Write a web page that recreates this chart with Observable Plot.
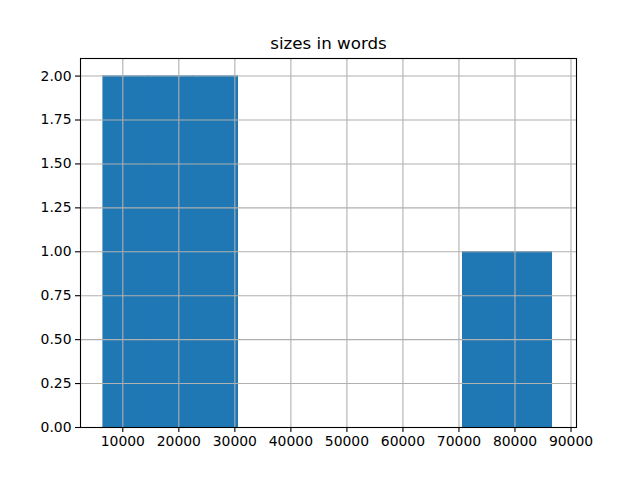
<!DOCTYPE html>
<html>
<head>
<meta charset="utf-8">
<script src="https://cdn.jsdelivr.net/npm/d3@7"></script>
<script src="https://cdn.jsdelivr.net/npm/@observablehq/plot@0.6"></script>
<style>
  html, body { margin: 0; padding: 0; background: #fff; }
</style>
</head>
<body>
<div id="chart"></div>
<script>
const title = "sizes in words";
const binStarts = [6554, 14565, 22576, 30586, 38597, 46608, 54618, 62629, 70639, 78650];
const binEnds   = [14565, 22576, 30586, 38597, 46608, 54618, 62629, 70639, 78650, 86661];
const counts    = [2, 2, 2, 0, 0, 0, 0, 0, 1, 1];
const xTicks = [10000, 20000, 30000, 40000, 50000, 60000, 70000, 80000, 90000];
const yTicks = [0, 0.25, 0.5, 0.75, 1, 1.25, 1.5, 1.75, 2];

const bins = counts.map((c, i) => ({x1: binStarts[i], x2: binEnds[i], y: c}));

const chart = Plot.plot({
  width: 640,
  height: 480,
  marginLeft: 80,
  marginRight: 64,
  marginTop: 58,
  marginBottom: 53,
  style: {fontFamily: "DejaVu Sans", fontSize: "13.9px", color: "black", background: "white"},
  x: {domain: [2450, 90980]},
  y: {domain: [0, 2.1]},
  marks: [
    Plot.rectY(bins, {x1: "x1", x2: "x2", y: "y", fill: "#1f77b4", stroke: "#1f77b4", strokeWidth: 0.6, inset: 0, shapeRendering: "crispEdges"}),
    Plot.gridX(xTicks, {stroke: "#b0b0b0", strokeOpacity: 1, strokeWidth: 1.1}),
    Plot.gridY(yTicks, {stroke: "#b0b0b0", strokeOpacity: 1, strokeWidth: 1.1}),
    Plot.axisX(xTicks, {tickSize: 5, tickPadding: 4, tickFormat: d => String(d), label: null, strokeWidth: 1.1}),
    Plot.axisY(yTicks, {tickSize: 5, tickPadding: 4, tickFormat: d3.format(".2f"), label: null, strokeWidth: 1.1}),
    Plot.frame({stroke: "black", strokeWidth: 1.1}),
    Plot.text([title], {frameAnchor: "top", lineAnchor: "bottom", dy: -10, fontSize: 16.7, fill: "black"})
  ]
});
document.getElementById("chart").appendChild(chart);
</script>
</body>
</html>
